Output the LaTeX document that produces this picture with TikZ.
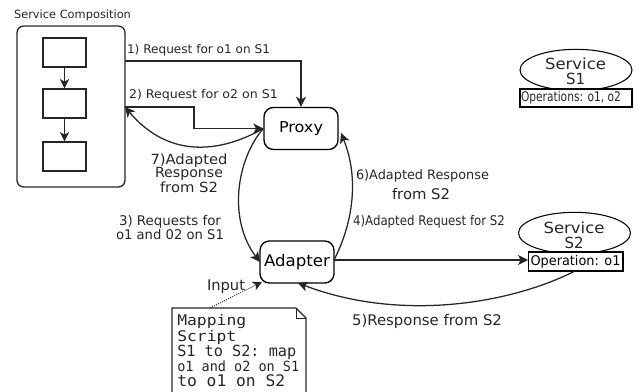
\documentclass[tikz,border=0pt]{standalone}
\usepackage{fontspec}
\setmainfont{DejaVu Sans}
\setmonofont{DejaVu Sans Mono}
\usetikzlibrary{arrows.meta,shapes.geometric,positioning}
\newcommand\fw[2]{\resizebox{\dimexpr 75\dimexpr 0.01pt\relax*#1\relax}{\height}{#2}}
\newcommand\fsz[1]{\fontsize{#1}{#1}\selectfont}
\tikzset{
  x=0.75pt,y=-0.75pt,
  conn/.style={line width=0.95pt,draw=black!85,-{Stealth[length=7.5pt,width=7.5pt,inset=2pt]}},
  thin conn/.style={line width=0.7pt,draw=black!85,-{Stealth[length=7pt,width=7pt,inset=2pt]}},
  outerbox/.style={draw=black!85,line width=1pt,rounded corners=5pt,inner sep=0pt},
  taskbox/.style={draw=black!85,line width=1pt,inner sep=0pt,minimum width=32.25pt,minimum height=21.75pt},
  rbox/.style={draw=black,line width=1pt,rounded corners=7pt,inner sep=0pt,minimum width=55.5pt,minimum height=31.5pt},
  svc/.style={draw=black,line width=0.8pt,ellipse,inner sep=0pt,minimum width=84pt,minimum height=31pt},
  opbox/.style={draw=black,line width=1pt,inner sep=0pt,fill=white},
  lab/.style={inner sep=0pt,text=black!85,align=center},
}
\begin{document}
\begin{tikzpicture}
\useasboundingbox (0,0) rectangle (638,392);
% Service composition
\node[outerbox,minimum width=81pt,minimum height=120.75pt] (comp) at (71,106.5) {};
\node[lab] (comptitle) at (72.5,15) {\fsz{8.5}\fw{117}{Service Composition}};
\node[taskbox] (t1) at (64.5,52.5) {};
\node[taskbox] (t2) at (64.5,103.5) {};
\node[taskbox] (t3) at (64.5,156.5) {};
\draw[thin conn] (t1) -- (t2);
\draw[thin conn] (t2) -- (t3);
% Main nodes
\node[rbox] (proxy) at (301,128.5) {\fsz{11.2}\fw{44}{Proxy}};
\node[rbox] (adapter) at (297,262) {\fsz{12}\fw{66}{Adapter}};
% Services
\node[svc] (s1) at (576,70) {};
\node[lab] (s1a) at (575.5,64) {\fsz{11.5}\fw{61}{Service}};
\node[lab] (s1b) at (575.5,79) {\fsz{11.5}\fw{19}{S1}};
\node[opbox,minimum width=84pt,minimum height=13.5pt] (s1op) at (576,98) {};
\node[lab] (s1opt) at (571,98) {\fsz{10}\fw{100}{Operations: o1, o2}};
\node[svc] (s2) at (574.5,233) {};
\node[lab] (s2a) at (574,227.5) {\fsz{11.5}\fw{61}{Service}};
\node[lab] (s2b) at (574,242.5) {\fsz{11.5}\fw{19}{S2}};
\node[opbox,minimum width=71pt,minimum height=14.25pt] (s2op) at (575.5,261.5) {\fsz{10}\fw{90}{Operation: o1}};
% Note
\coordinate (nw) at (172,308);
\coordinate (nf1) at (296,308);
\coordinate (nf2) at (306,318);
\coordinate (nfc) at (296,318);
\draw[line width=1pt,draw=black!85] (172,400) -- (nw) -- (nf1) -- (nf2) -- (306,400);
\draw[line width=0.7pt,draw=black!85] (nf1) -- (nfc) -- (nf2);
\node[lab,anchor=west] (m1) at (177,322) {\ttfamily\fsz{11}\fw{69}{Mapping}};
\node[lab,anchor=west] (m2) at (177,337.5) {\ttfamily\fsz{11}\fw{59}{Script}};
\node[lab,anchor=west] (m3) at (177,352) {\ttfamily\fsz{11.5}\fw{119}{S1 to S2: map}};
\node[lab,anchor=west] (m4) at (177,366) {\ttfamily\fsz{10.5}\fw{122}{o1 and o2 on S1}};
\node[lab,anchor=west] (m5) at (177,381) {\ttfamily\fsz{12}\fw{108}{to o1 on S2}};
% Connectors
\coordinate (p1) at (301,61);
\coordinate (c1) at (125,61);
\coordinate (c2) at (125,107);
\coordinate (b1) at (194,107);
\coordinate (b2) at (194,128.5);
\draw[conn] (c1) -- (p1) -- (proxy.north);
\draw[conn] (c2) -- (b1) -- (b2) -- (proxy.west);
\draw[conn] (proxy.west) .. controls (222,152) and (170,160) .. (c2);
\coordinate (aw) at (260,262);
\coordinate (ae) at (334,260);
\coordinate (pe) at (341,133);
\coordinate (as) at (298,283);
\coordinate (oe) at (528,260);
\draw[conn] (proxy.west) .. controls (236,160) and (228,220) .. (aw);
\draw[conn] (ae) .. controls (352,225) and (360,180) .. (pe);
\draw[conn] (ae) -- (oe);
\coordinate (so) at (575,271);
\draw[conn] (so) .. controls (510,304) and (400,322) .. (as);
\coordinate (ni) at (210,308);
\coordinate (ai) at (262,282);
\draw[thin conn,densely dotted] (ni) -- (ai);
% Labels
\node[lab] (l1) at (198.5,50) {\fsz{9}\fw{143}{1) Request for o1 on S1}};
\node[lab] (l2) at (203.5,95) {\fsz{9}\fw{149}{2) Request for o2 on S1}};
\node[lab] (l7a) at (189,161) {\fsz{10.5}\fw{77}{7)Adapted}};
\node[lab] (l7b) at (189,174) {\fsz{10.5}\fw{68}{Response}};
\node[lab] (l7c) at (189,187) {\fsz{10.5}\fw{58}{from S2}};
\node[lab] (l3a) at (170,222) {\fsz{10}\fw{102}{3) Requests for}};
\node[lab] (l3b) at (170,235) {\fsz{10}\fw{108}{o1 and 02 on S1}};
\node[lab] (linput) at (226,287) {\fsz{11}\fw{38}{Input}};
\node[lab] (l6a) at (422.5,176) {\fsz{9.8}\fw{133}{6)Adapted Response}};
\node[lab] (l6b) at (421,194) {\fsz{11}\fw{58}{from S2}};
\node[lab] (l4) at (429,222) {\fsz{10}\fw{152}{4)Adapted Request for S2}};
\node[lab] (l5) at (427,321) {\fsz{11}\fw{150}{5)Response from S2}};
\end{tikzpicture}
\end{document}
